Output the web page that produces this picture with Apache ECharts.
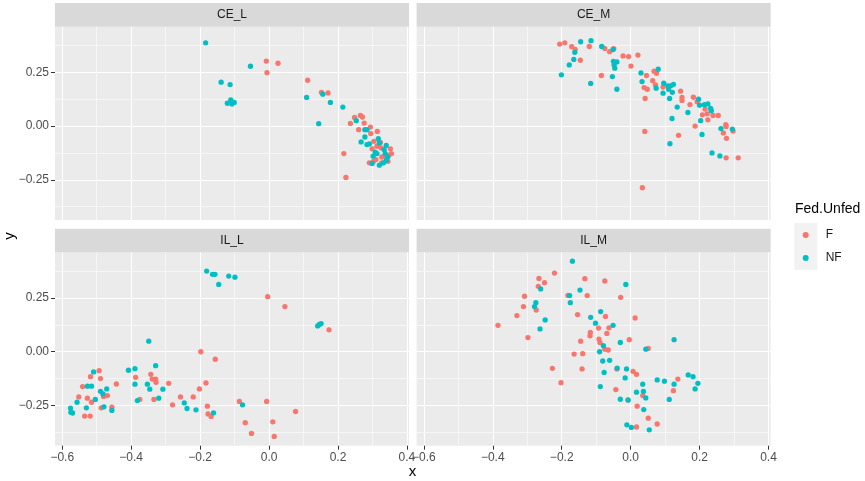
<!DOCTYPE html>
<html>
<head>
<meta charset="utf-8">
<script src="https://cdn.jsdelivr.net/npm/echarts@6/dist/echarts.min.js"></script>
<style>
  html, body { margin: 0; padding: 0; background: #ffffff; }
  #container { width: 865px; height: 481px; }
</style>
</head>
<body>
<div id="container"></div>
<script>
// facets and groups
let panels = ['CE_L', 'CE_M', 'IL_L', 'IL_M'];
let groups = ['F', 'NF'];
let groupColors = ['#F8766D', '#00BFC4'];

// axis ticks
let xMajorTicks = [-0.6, -0.4, -0.2, 0, 0.2, 0.4];
let xMinorTicks = [-0.5, -0.3, -0.1, 0.1, 0.3];
let yMajorTicks = [-0.25, 0, 0.25];
let yMinorTicks = [-0.375, -0.125, 0.125, 0.375];

// points [x, y] per facet and group
let ceL_F = [[-0.008,0.302],[-0.006,0.248],[0.026,0.292],[0.112,0.213],[0.152,0.157],[0.171,0.154],
  [0.217,-0.128],[0.223,-0.239],[0.236,0.012],[0.248,0.040],[0.265,0.049],[0.271,0.042],[0.276,0.014],
  [0.260,-0.017],[0.294,-0.005],[0.295,-0.035],[0.314,-0.025],[0.304,-0.071],[0.299,-0.106],[0.313,-0.094],
  [0.323,-0.076],[0.325,-0.102],[0.352,-0.106],[0.355,-0.128],[0.347,-0.137],[0.337,-0.137],[0.327,-0.144],
  [0.303,-0.164],[0.291,-0.171],[0.310,-0.156],[0.327,-0.171],[0.345,-0.164]];
let ceL_NF = [[-0.184,0.387],[-0.139,0.204],[-0.113,0.193],[-0.121,0.106],[-0.111,0.122],[-0.108,0.103],
  [-0.101,0.110],[-0.054,0.278],[0.109,0.133],[0.144,0.011],[0.156,0.148],[0.178,0.110],[0.214,0.088],
  [0.253,0.025],[0.278,-0.017],[0.284,-0.017],[0.267,-0.074],[0.278,-0.051],[0.284,-0.086],[0.291,-0.083],
  [0.317,-0.059],[0.320,-0.079],[0.308,-0.122],[0.302,-0.140],[0.340,-0.090],[0.334,-0.110],[0.337,-0.128],
  [0.299,-0.174],[0.320,-0.182],[0.340,-0.159],[0.344,-0.144],[0.332,-0.171],[0.313,-0.128]];
let ceM_F = [[-0.206,0.381],[-0.191,0.387],[-0.171,0.369],[-0.161,0.356],[-0.146,0.306],[-0.120,0.370],
  [-0.075,0.361],[-0.061,0.346],[-0.049,0.360],[-0.085,0.235],[-0.022,0.326],[-0.006,0.323],[0.021,0.330],
  [0.001,0.279],[0.046,0.235],[0.068,0.255],[0.075,0.245],[0.064,0.211],[0.072,0.191],[0.039,0.179],
  [0.048,0.171],[0.042,0.128],[0.094,0.181],[0.145,0.162],[0.149,0.133],[0.149,0.119],[0.172,0.100],
  [0.182,0.134],[0.193,0.113],[0.216,0.079],[0.208,0.052],[0.222,0.057],[0.224,0.029],[0.239,0.049],
  [0.254,0.049],[0.187,0.000],[0.276,0.006],[0.277,-0.002],[0.269,-0.032],[0.297,-0.023],[0.278,-0.057],
  [0.139,-0.043],[0.041,-0.025],[0.277,-0.148],[0.312,-0.148],[0.034,-0.287]];
let ceM_NF = [[-0.201,0.238],[-0.178,0.284],[-0.165,0.310],[-0.162,0.343],[-0.145,0.392],[-0.115,0.397],
  [-0.116,0.198],[-0.084,0.370],[-0.051,0.356],[-0.050,0.301],[-0.040,0.298],[-0.048,0.284],[-0.046,0.269],
  [-0.053,0.230],[-0.040,0.171],[0.030,0.247],[0.033,0.207],[0.080,0.264],[0.074,0.176],[0.096,0.199],
  [0.108,0.187],[0.110,0.171],[0.116,0.187],[0.124,0.194],[0.121,0.157],[0.094,0.153],[0.113,0.128],
  [0.135,0.088],[0.166,0.063],[0.197,0.125],[0.200,0.097],[0.214,0.099],[0.224,0.103],[0.232,0.082],
  [0.234,0.071],[0.203,0.025],[0.207,-0.039],[0.120,0.035],[0.114,-0.082],[0.262,-0.012],[0.295,-0.014],
  [0.236,-0.125],[0.259,-0.139]];
let ilL_F = [[-0.004,0.256],[0.046,0.210],[0.174,0.102],[-0.198,0.000],[-0.156,-0.035],[-0.493,-0.088],
  [-0.518,-0.116],[-0.489,-0.125],[-0.541,-0.162],[-0.443,-0.150],[-0.552,-0.210],[-0.527,-0.216],
  [-0.515,-0.235],[-0.480,-0.208],[-0.469,-0.204],[-0.487,-0.261],[-0.456,-0.258],[-0.535,-0.299],
  [-0.519,-0.299],[-0.387,-0.119],[-0.343,-0.105],[-0.339,-0.127],[-0.329,-0.127],[-0.328,-0.142],
  [-0.291,-0.147],[-0.375,-0.222],[-0.334,-0.222],[-0.280,-0.247],[-0.257,-0.210],[-0.220,-0.210],
  [-0.202,-0.173],[-0.183,-0.145],[-0.179,-0.253],[-0.177,-0.289],[-0.168,-0.301],[-0.086,-0.231],
  [-0.007,-0.231],[-0.069,-0.330],[-0.051,-0.380],[0.011,-0.326],[0.015,-0.394],[0.077,-0.278]];
let ilL_NF = [[-0.181,0.375],[-0.164,0.360],[-0.157,0.360],[-0.146,0.313],[-0.117,0.352],[-0.099,0.347],
  [0.141,0.120],[0.146,0.127],[0.151,0.131],[-0.349,0.049],[-0.408,-0.086],[-0.389,-0.079],[-0.329,-0.065],
  [-0.389,-0.151],[-0.353,-0.151],[-0.346,-0.174],[-0.308,-0.174],[-0.382,-0.227],[-0.320,-0.216],
  [-0.246,-0.238],[-0.238,-0.264],[-0.212,-0.270],[-0.161,-0.284],[-0.077,-0.247],[-0.509,-0.094],
  [-0.527,-0.160],[-0.515,-0.160],[-0.489,-0.184],[-0.482,-0.196],[-0.471,-0.173],[-0.504,-0.222],
  [-0.557,-0.235],[-0.530,-0.261],[-0.479,-0.256],[-0.456,-0.273],[-0.576,-0.262],[-0.575,-0.281],
  [-0.570,-0.285]];
let ilM_F = [[-0.221,0.366],[-0.266,0.341],[-0.250,0.321],[-0.268,0.304],[-0.308,0.258],[-0.311,0.210],
  [-0.330,0.168],[-0.385,0.123],[-0.274,0.194],[-0.298,0.066],[-0.133,0.340],[-0.075,0.329],[-0.182,0.262],
  [-0.126,0.261],[-0.029,0.253],[-0.154,0.173],[-0.073,0.164],[0.013,0.157],[-0.093,0.110],[-0.063,0.111],
  [-0.069,0.085],[-0.117,0.090],[-0.118,0.074],[-0.092,0.059],[-0.089,0.043],[-0.145,0.049],[-0.004,0.056],
  [-0.075,0.012],[-0.065,0.008],[0.051,0.015],[-0.164,-0.011],[-0.139,-0.009],[-0.227,-0.077],
  [-0.141,-0.080],[-0.202,-0.144],[-0.040,-0.080],[0.007,-0.091],[0.017,-0.105],[-0.043,-0.176],
  [0.137,-0.127],[0.124,-0.181],[0.035,-0.204],[-0.008,-0.224],[0.019,-0.253],[0.051,-0.309],
  [0.077,-0.336],[0.017,-0.350]];
let ilM_NF = [[-0.169,0.421],[-0.014,0.313],[-0.147,0.287],[-0.261,0.292],[-0.177,0.261],[-0.175,0.228],
  [-0.275,0.228],[-0.279,0.210],[-0.248,0.148],[-0.263,0.106],[-0.087,0.187],[-0.116,0.160],[-0.102,0.133],
  [-0.051,0.123],[-0.079,0.028],[-0.090,0.000],[-0.030,0.043],[0.044,0.012],[0.126,0.056],[-0.081,-0.043],
  [-0.061,-0.040],[-0.077,-0.096],[-0.039,-0.076],[-0.012,-0.080],[-0.016,-0.122],[-0.088,-0.162],
  [-0.030,-0.221],[-0.007,-0.225],[0.035,-0.151],[0.017,-0.188],[0.037,-0.185],[0.044,-0.215],
  [0.038,-0.269],[0.077,-0.131],[0.098,-0.137],[0.126,-0.151],[0.112,-0.222],[0.167,-0.108],
  [0.181,-0.116],[0.195,-0.147],[0.187,-0.173],[-0.011,-0.340],[0.002,-0.352],[0.054,-0.363]];

let panelData = [[ceL_F, ceL_NF], [ceM_F, ceM_NF], [ilL_F, ilL_NF], [ilM_F, ilM_NF]];

// shared scales (ggplot expanded ranges)
let xMin = -0.621, xMax = 0.406;
let yMin = -0.437, yMax = 0.462;

let dom = document.getElementById('container');
let myChart = echarts.init(dom, null, {renderer: 'canvas'});

// panel boxes in px
let boxes = [
    {left: 55, top: 26.7},
    {left: 416.6, top: 26.7},
    {left: 55, top: 252.4},
    {left: 416.6, top: 252.4}
];
let panelW = 354, panelH = 193.3, stripH = 23.7;

let fmt = function (d) {
    return function (v) { return (v < 0 ? '\u2212' : '') + Math.abs(v).toFixed(d); };
};

let grids = [], xAxes = [], yAxes = [], series = [], graphics = [];
boxes.forEach(function (b, g) {
    grids.push({
        left: b.left, top: b.top, width: panelW, height: panelH,
        show: true, backgroundColor: '#EBEBEB', borderWidth: 0, containLabel: false
    });
    // strip
    graphics.push({
        type: 'rect', left: b.left, top: b.top - stripH,
        shape: {width: panelW, height: stripH}, style: {fill: '#D9D9D9'}, silent: true
    });
    graphics.push({
        type: 'text', x: b.left + panelW / 2, y: b.top - stripH / 2,
        style: {text: panels[g], fill: '#1A1A1A', font: '12px "Liberation Sans", Arial, sans-serif',
            align: 'center', verticalAlign: 'middle'}, silent: true
    });
    let showX = g >= 2, showY = g % 2 === 0;
    [false, true].forEach(function (minor) {
        xAxes.push({
            type: 'value', gridIndex: g, min: xMin, max: xMax, position: 'bottom',
            axisLine: {show: false, onZero: false},
            axisTick: {show: showX && !minor, length: 4, inside: false,
                lineStyle: {color: '#333333', width: 1},
                customValues: minor ? xMinorTicks : xMajorTicks},
            axisLabel: {show: showX && !minor, margin: 6, color: '#4D4D4D', fontSize: 12,
                fontFamily: '"Liberation Sans", Arial, sans-serif',
                customValues: minor ? xMinorTicks : xMajorTicks, formatter: fmt(1)},
            splitLine: {show: true, lineStyle: {color: '#FFFFFF', width: minor ? 0.55 : 1.1}}
        });
        yAxes.push({
            type: 'value', gridIndex: g, min: yMin, max: yMax, position: 'left',
            axisLine: {show: false, onZero: false},
            axisTick: {show: showY && !minor, length: 4,
                lineStyle: {color: '#333333', width: 1},
                customValues: minor ? yMinorTicks : yMajorTicks},
            axisLabel: {show: showY && !minor, margin: 6, color: '#4D4D4D', fontSize: 12,
                fontFamily: '"Liberation Sans", Arial, sans-serif',
                customValues: minor ? yMinorTicks : yMajorTicks, formatter: fmt(2)},
            splitLine: {show: true, lineStyle: {color: '#FFFFFF', width: minor ? 0.55 : 1.1}}
        });
    });
    groups.forEach(function (name, k) {
        series.push({
            name: name, type: 'scatter',
            xAxisIndex: 2 * g, yAxisIndex: 2 * g,
            data: panelData[g][k],
            symbol: 'circle', symbolSize: 5.3,
            itemStyle: {color: groupColors[k], opacity: 1},
            emphasis: {disabled: true},
            animation: false
        });
    });
});

// axis titles and legend title
graphics.push({
    type: 'text', x: 412.5, y: 472,
    style: {text: 'x', fill: '#000000', font: '15px "Liberation Sans", Arial, sans-serif',
        align: 'center', verticalAlign: 'middle'}, silent: true
});
graphics.push({
    type: 'text', x: 10, y: 236, rotation: Math.PI / 2,
    style: {text: 'y', fill: '#000000', font: '15px "Liberation Sans", Arial, sans-serif',
        align: 'center', verticalAlign: 'middle'}, silent: true
});
graphics.push({
    type: 'text', x: 795, y: 209,
    style: {text: 'Fed.Unfed', fill: '#000000', font: '14px "Liberation Sans", Arial, sans-serif',
        align: 'left', verticalAlign: 'middle'}, silent: true
});
graphics.push({
    type: 'rect', left: 794.3, top: 223,
    shape: {width: 23, height: 47}, style: {fill: '#F2F2F2'}, silent: true, z: -1
});

let option = {
    backgroundColor: '#FFFFFF',
    animation: false,
    grid: grids,
    xAxis: xAxes,
    yAxis: yAxes,
    legend: {
        data: groups,
        orient: 'vertical',
        left: 802.7, top: 229,
        padding: 0,
        itemWidth: 6, itemHeight: 6, itemGap: 11,
        icon: 'circle',
        selectedMode: false,
        textStyle: {color: '#1A1A1A', fontSize: 12, lineHeight: 12,
            fontFamily: '"Liberation Sans", Arial, sans-serif', padding: [0, 0, 0, 12]}
    },
    graphic: graphics,
    series: series
};

if (option && typeof option === 'object') {
    myChart.setOption(option, true);
}
</script>
</body>
</html>
